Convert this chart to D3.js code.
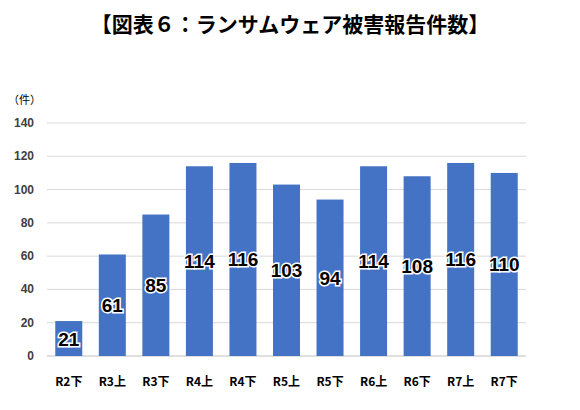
<!DOCTYPE html>
<html><head><meta charset="utf-8">
<script src="https://cdn.jsdelivr.net/npm/d3@7"></script>
<style>body{margin:0;background:#fff}</style></head>
<body><svg id="c" width="580" height="410"></svg>
<script>
const categories=["R2下","R3上","R3下","R4上","R4下","R5上","R5下","R6上","R6下","R7上","R7下"];
const values=[21,61,85,114,116,103,94,114,108,116,110];
const yTicks=[0,20,40,60,80,100,120,140];
const title="【図表６：ランサムウェア被害報告件数】";
const unit="（件）";
const svg=d3.select("#c");
const font="'Noto Sans CJK JP',sans-serif";
const x=d3.scaleBand().domain(categories).range([47,526]).paddingInner(0.38).paddingOuter(0.19);
const y=d3.scaleLinear().domain([0,140]).range([356,123]);
svg.append("text").attr("x",290).attr("y",32).attr("text-anchor","middle").attr("font-family",font).attr("font-weight","bold").attr("font-size",21).text(title);
svg.append("text").attr("x",8).attr("y",104).attr("font-family",font).attr("font-size",11).text(unit);
svg.selectAll(".g").data(yTicks).join("line").attr("x1",47).attr("x2",526).attr("y1",d=>y(d)).attr("y2",d=>y(d)).attr("stroke",d=>d===0?"#bfbfbf":"#d9d9d9").attr("stroke-width",1);
svg.selectAll(".yl").data(yTicks).join("text").attr("x",34).attr("y",d=>y(d)+4).attr("text-anchor","end").attr("font-family","Arial,sans-serif").attr("font-weight","bold").attr("font-size",12).attr("fill","#404040").text(d=>d);
svg.selectAll(".b").data(values).join("rect").attr("x",(d,i)=>x(categories[i])).attr("width",x.bandwidth()).attr("y",d=>y(d)).attr("height",d=>y(0)-y(d)).attr("fill","#4472c4");
svg.selectAll(".v").data(values).join("text").attr("x",(d,i)=>x(categories[i])+x.bandwidth()/2).attr("y",d=>(y(d)+y(0))/2+7).attr("text-anchor","middle").attr("font-family","Arial,sans-serif").attr("font-weight","bold").attr("font-size",19).attr("fill","#000").attr("stroke","#fff").attr("stroke-width",3).attr("paint-order","stroke").text(d=>d);
svg.selectAll(".xl").data(categories).join("text").attr("x",d=>x(d)+x.bandwidth()/2).attr("y",386).attr("text-anchor","middle").attr("font-family",font).attr("font-weight","bold").attr("font-size",12).attr("fill","#000").text(d=>d);
</script></body></html>
